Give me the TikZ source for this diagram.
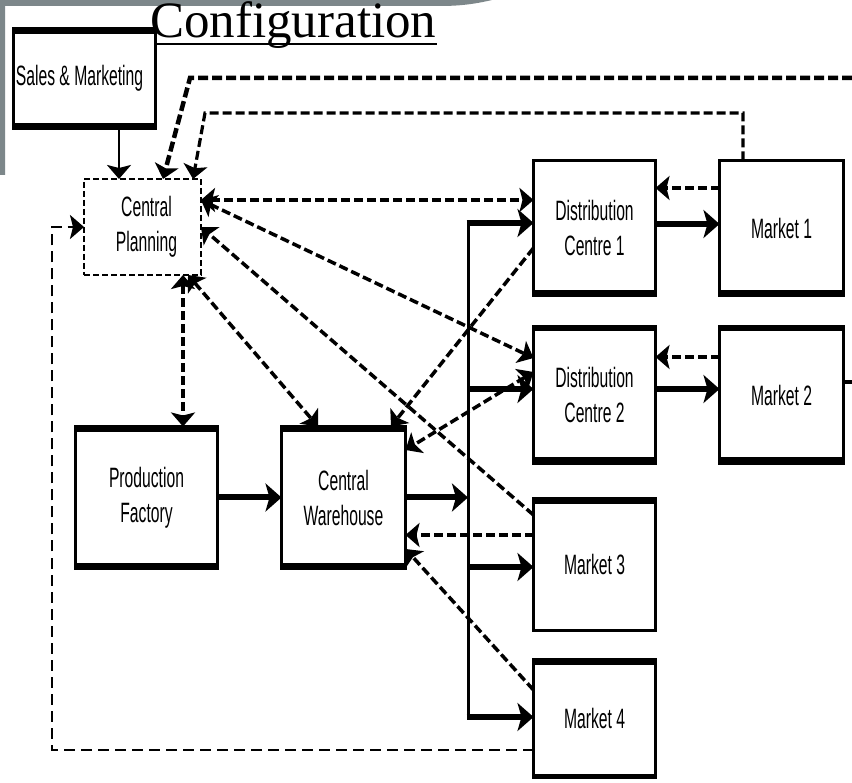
\documentclass[tikz,border=0pt]{standalone}
\usepackage{fontspec}
\usetikzlibrary{arrows.meta}
\newfontfamily\boxfamily[FakeStretch=0.56]{Liberation Sans}
\newfontfamily\titlefamily{Liberation Serif}
\definecolor{framegray}{RGB}{125,135,138}
\newcommand\bartop[2]{\fill ([xshift=-1.5pt,yshift=1.5pt]#1.north west) rectangle ([xshift=1.5pt,yshift=#2]#1.north east);}
\newcommand\barbot[2]{\fill ([xshift=-1.5pt,yshift=#2]#1.south west) rectangle ([xshift=1.5pt,yshift=-1.5pt]#1.south east);}
\begin{document}
\begin{tikzpicture}[x=1pt,y=-1pt,
  >={Stealth[length=14pt,width=24pt,inset=3pt]},
  box/.style={draw, line width=3pt, inner sep=0pt, outer sep=0pt, align=center,
    fill=white, font=\boxfamily\fontsize{28}{35}\selectfont},
  planbox/.style={box, line width=2pt, dash pattern=on 6pt off 3pt},
  feed/.style={line width=6pt, -{Stealth[length=16pt,width=28pt,inset=4pt]}},
  thinsolid/.style={line width=2.5pt, ->},
  dsh/.style={line width=3.5pt, dash pattern=on 9pt off 4pt},
  topA/.style={line width=4.5pt, dash pattern=on 10pt off 4pt, ->},
  topB/.style={line width=3.2pt, dash pattern=on 9pt off 4pt, ->},
  loopline/.style={line width=2.5pt, dash pattern=on 11pt off 6pt, ->},
  bus/.style={line width=3pt}
]
\useasboundingbox (0,0) rectangle (852,783);
\fill[white] (0,0) rectangle (852,783);
% grey slide frame
\fill[framegray] (0,0) -- (492,0) .. controls (475,4) and (460,6) .. (440,6) -- (5,6) -- (5,175) -- (0,175) -- cycle;

% title
\node[font=\titlefamily\fontsize{51}{60}\selectfont, anchor=base west, inner sep=0pt] (title) at (150,38) {Configuration};
\draw[line width=2.5pt] ([yshift=-6pt]title.base west) -- ([yshift=-6pt]title.base east);

% boxes
\node[box, minimum width=142pt, minimum height=100pt] (sm) at (84.5,78.5) {Sales \& Marketing\hspace*{10pt}};
\node[planbox, minimum width=117pt, minimum height=96pt] (cp) at (142.5,227) {\hspace*{8pt}Central\\\hspace*{8pt}Planning};
\node[box, minimum width=122pt, minimum height=135pt] (dc1) at (594.5,228) {Distribution\\Centre 1};
\node[box, minimum width=124pt, minimum height=135pt] (m1) at (781.5,228) {Market 1};
\node[box, minimum width=122pt, minimum height=137pt] (dc2) at (594.5,395) {Distribution\\Centre 2};
\node[box, minimum width=124pt, minimum height=137pt] (m2) at (781.5,395) {Market 2};
\node[box, minimum width=142pt, minimum height=142pt] (pf) at (146.5,497.5) {Production\\Factory};
\node[box, minimum width=124pt, minimum height=142pt] (cw) at (343.5,497.5) {Central\\Warehouse};
\node[box, minimum width=122pt, minimum height=132pt] (m3) at (594.5,564.5) {Market 3};
\node[box, minimum width=122pt, minimum height=118pt] (m4) at (594.5,718.5) {Market 4};

% thick top / bottom rules
\bartop{sm}{-5.5pt}\barbot{sm}{5.5pt}
\barbot{dc1}{5.5pt}\barbot{m1}{5.5pt}
\bartop{dc2}{-4.5pt}\barbot{dc2}{6.5pt}
\bartop{m2}{-4.5pt}\barbot{m2}{6.5pt}
\bartop{pf}{-5.5pt}\barbot{pf}{5.5pt}
\bartop{cw}{-5.5pt}\barbot{cw}{5.5pt}
\bartop{m3}{-5.5pt}
\bartop{m4}{-5.5pt}\barbot{m4}{3.5pt}

% helper coordinates
\coordinate (e1) at (852,78);
\coordinate (b1) at (190,78);
\coordinate (b2) at (205,113);
\coordinate (b3) at (52,750);
\coordinate (bt) at (468,223);
\coordinate (bb) at (468,717);
\coordinate (f2) at ([yshift=6pt]dc2.west);
\coordinate (f3) at ([yshift=-2.5pt]m3.west);

% sales & marketing to central planning
\draw[thinsolid] ([xshift=34.5pt]sm.south) -- ([xshift=-23.5pt]cp.north);
% long feedback lines along the top
\draw[topA] (e1) -- (b1) -- ([xshift=20.5pt]cp.north);
\draw[topB] ([xshift=-38.5pt]m1.north) |- (b2) -- ([xshift=50.5pt]cp.north);
% loop from market 4 back to central planning
\draw[loopline] ([yshift=-31.5pt]m4.west) -- (b3) |- (cp.west);

% information lines around central planning
\draw[dsh, <->] ([yshift=27pt]cp.east) -- ([yshift=28pt]dc1.west);
\draw[dsh, <->] ([yshift=27pt]cp.east) -- ([yshift=37pt]dc2.west);
\draw[dsh, ->] ([yshift=-16.5pt]m3.north west) -- (cp.east);
\draw[dsh, <->] ([xshift=45.5pt]cp.south) -- ([xshift=-25.5pt]cw.north);
\draw[dsh, <->] ([xshift=40.5pt]cp.south) -- ([xshift=36.5pt]pf.north);

% returns to the warehouse
\draw[dsh, ->] ([yshift=-20pt]dc1.west) -- ([xshift=47.5pt]cw.north);
\draw[dsh, <->] ([yshift=23pt]dc2.west) -- ([yshift=47.5pt]cw.east);
\draw[dsh, ->] ([yshift=29.5pt]m3.west) -- ([yshift=-37.5pt]cw.east);
\draw[dsh, ->] ([yshift=28.5pt]m4.west) -- ([yshift=-51.5pt]cw.east);

% market returns to distribution centres
\draw[dsh, ->] ([yshift=40pt]m1.west) -- ([yshift=40pt]dc1.east);
\draw[dsh, ->] ([yshift=38pt]m2.west) -- ([yshift=38pt]dc2.east);

% material flow
\draw[feed] (pf.east) -- (cw.west);
\draw[feed] (cw.east) -- (cw.east -| bt);
\draw[bus] (bt) -- (bb);
\draw[feed] ([xshift=-1.5pt]bt) -- ([yshift=5pt]dc1.west);
\draw[feed] (f2 -| bt) -- (f2);
\draw[feed] (f3 -| bt) -- (f3);
\draw[feed] ([xshift=-1.5pt]bb) -- ([yshift=1.5pt]m4.west);
\draw[feed] ([yshift=4pt]dc1.east) -- ([yshift=4pt]m1.west);
\draw[feed] ([yshift=6pt]dc2.east) -- ([yshift=6pt]m2.west);
\draw[line width=4pt] ([yshift=13pt]m2.east) -- ++(8,0);
\end{tikzpicture}
\end{document}
